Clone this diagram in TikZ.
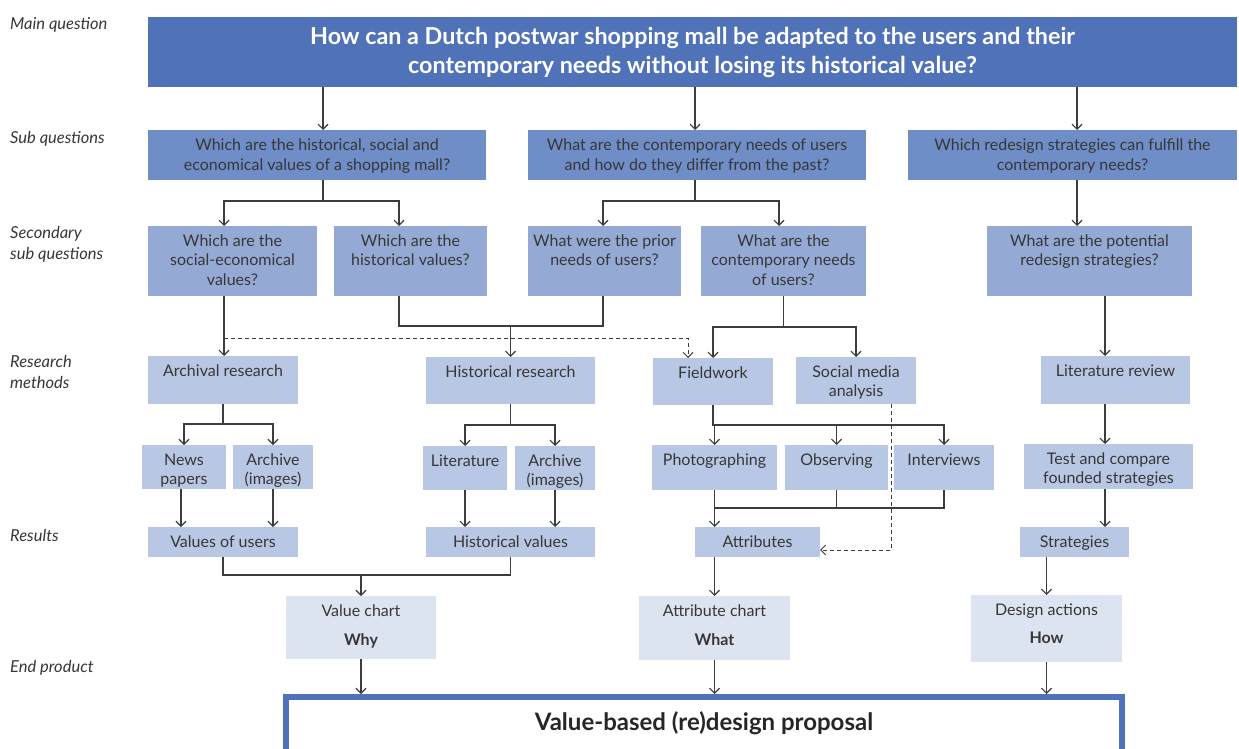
\documentclass[tikz,border=0pt]{standalone}
\usepackage{fontspec}
\setmainfont{Lato}
\usetikzlibrary{arrows.meta}
\definecolor{cmain}{RGB}{79,114,184}
\definecolor{csq}{RGB}{111,141,199}
\definecolor{css}{RGB}{148,170,213}
\definecolor{crm}{RGB}{184,199,227}
\definecolor{cend}{RGB}{220,227,241}
\definecolor{ctxt}{RGB}{55,55,55}
\definecolor{cline}{RGB}{60,60,60}
\newcommand\bx[8]{%
 \pgfmathsetmacro\bxw{#6-#4}%
 \pgfmathsetmacro\bxh{#7-#5}%
 \pgfmathsetmacro\bxc{(#4+#6)/2}%
 \node[#2,anchor=north,inner sep=0pt,outer sep=0pt,minimum width=\bxw pt,minimum height=\bxh pt] (#1) at (\bxc,#5)
 {\parbox[c][\bxh pt][#3]{\bxw pt}{\centering\ifx t#3\vspace*{6.5pt}\fi\strut #8}};}
\tikzset{
 boxsq/.style={fill=csq,text=ctxt},
 boxss/.style={fill=css,text=ctxt},
 boxrm/.style={fill=crm,text=ctxt},
 boxend/.style={fill=cend,text=ctxt},
 side/.style={font=\fontsize{16.5}{21}\selectfont\itshape,text=ctxt,inner sep=0pt,align=left},
 ln/.style={draw=cline,line width=1.2pt},
 arr/.style={ln,-{Straight Barb[length=5pt,width=10pt]}},
 dsh/.style={ln,line width=1pt,dash pattern=on 4pt off 3pt},
 dsharr/.style={dsh,-{Straight Barb[length=5pt,width=10pt]}},
}
\begin{document}
\begin{tikzpicture}[x=1pt,y=-1pt,font=\fontsize{16}{19.5}\selectfont]
\useasboundingbox (0,0) rectangle (1239,749);
\clip (0,0) rectangle (1239,749);
% side labels
\node[side,anchor=west] (lmain) at (10,25) {Main question};
\node[side,anchor=west] (lsub) at (10,139) {Sub questions};
\node[side,anchor=north west] (lsec) at (10,226) {Secondary\\sub questions};
\node[side,anchor=north west] (lres) at (10,355) {Research\\methods};
\node[side,anchor=west] (lrst) at (10,535) {Results};
\node[side,anchor=west] (lend) at (10,668) {End product};
% main
\node[fill=cmain,text=white,anchor=north,inner sep=0pt,minimum width=1089pt,minimum height=70pt,
 align=center,font=\fontsize{23.3}{29}\selectfont\bfseries] (main) at (692.5,17)
 {\rule{0pt}{6pt}How can a Dutch postwar shopping mall be adapted to the users and their\\contemporary needs without losing its historical value?};
% sub questions
\bx{sq1}{boxsq}{c}{148}{130}{486}{180}{Which are the historical, social and\\economical values of a shopping mall?}
\bx{sq2}{boxsq}{c}{528}{130}{866}{180}{What are the contemporary needs of users\\and how do they differ from the past?}
\bx{sq3}{boxsq}{c}{908}{130}{1237}{180}{Which redesign strategies can fulfill the\\contemporary needs?}
% secondary
\bx{ss1}{boxss}{t}{148}{226}{317}{296}{Which are the\\social-economical\\values?}
\bx{ss2}{boxss}{t}{334}{226}{487}{296}{Which are the\\historical values?}
\bx{ss3}{boxss}{t}{528}{226}{681}{296}{What were the prior\\needs of users?}
\bx{ss4}{boxss}{t}{701}{226}{866}{296}{What are the\\contemporary needs\\of users?}
\bx{ss5}{boxss}{t}{987}{226}{1192}{296}{What are the potential\\redesign strategies?}
% research methods
\bx{rm1}{boxrm}{t}{148}{356}{298}{404}{Archival research}
\bx{rm2}{boxrm}{t}{426}{357}{595}{404}{Historical research}
\bx{rm3}{boxrm}{t}{653}{358}{773}{405}{Fieldwork}
\bx{rm4}{boxrm}{t}{796}{357}{916}{404}{Social media\\analysis}
\bx{rm5}{boxrm}{t}{1041}{356}{1190}{404}{Literature review}
% sub methods
\bx{news}{boxrm}{t}{142}{445}{226}{489}{News\\papers}
\bx{arch1}{boxrm}{t}{233}{445}{313}{489}{Archive\\(images)}
\bx{lit}{boxrm}{t}{423}{446}{507}{490}{Literature}
\bx{arch2}{boxrm}{t}{515}{446}{595}{490}{Archive\\(images)}
\bx{photo}{boxrm}{t}{652}{445}{777}{490}{Photographing}
\bx{obs}{boxrm}{t}{785}{445}{888}{490}{Observing}
\bx{intv}{boxrm}{t}{894}{445}{994}{490}{Interviews}
\bx{test}{boxrm}{t}{1024}{444}{1193}{489}{Test and compare\\founded strategies}
% results
\bx{res1}{boxrm}{t}{148}{527}{298}{557}{Values of users}
\bx{res2}{boxrm}{t}{426}{527}{595}{557}{Historical values}
\bx{res3}{boxrm}{t}{695}{527}{820}{557}{Attributes}
\bx{res4}{boxrm}{t}{1020}{527}{1129}{557}{Strategies}
% end products
\bx{end1}{boxend}{t}{286}{596}{436}{659}{\vspace*{1pt}Value chart\\[8.5pt]\textbf{Why}}
\bx{end2}{boxend}{t}{639}{596}{790}{660}{\vspace*{1pt}Attribute chart\\[8.5pt]\textbf{What}}
\bx{end3}{boxend}{t}{971}{595}{1122}{662}{Design actions\\[8.5pt]\textbf{How}}
% final
\node[draw=cmain,line width=6pt,fill=white,anchor=north,inner sep=0pt,minimum width=836pt,minimum height=90pt,
 text=black!85] (final) at (704,694)
 {\parbox[c][90pt][t]{836pt}{\centering\vspace*{15pt}\fontsize{24}{28}\selectfont\bfseries Value-based (re)design proposal}};
% helper coordinates
\coordinate (a1) at ([xshift=6pt]sq1.north);
\coordinate (a2) at ([xshift=-2pt]sq2.north);
\coordinate (a3) at ([xshift=4.5pt]sq3.north);
\coordinate (b1) at ([xshift=-8.5pt]ss1.north);
\coordinate (b2) at ([xshift=-11.5pt]ss2.north);
\coordinate (b3) at ([xshift=-1.5pt]ss3.north);
\coordinate (b4) at ([xshift=-4.5pt]ss4.north);
\coordinate (b5) at ([xshift=-12.5pt]ss5.north);
\coordinate (e5) at ([xshift=-10.5pt]rm5.north);
\coordinate (n1) at ([xshift=-3pt]news.south);
% main -> sub
\draw[arr] (main.south -| a1) -- (a1);
\draw[arr] (main.south -| a2) -- (a2);
\draw[arr] (main.south -| a3) -- (a3);
% sub -> secondary
\draw[arr] (sq1.south -| a1) -- ++(0,21) -| (b1);
\draw[arr] (sq1.south -| a1) -- ++(0,21) -| (b2);
\draw[arr] (sq2.south -| a2) -- ++(0,21) -| (b3);
\draw[arr] (sq2.south -| a2) -- ++(0,21) -| (b4);
\draw[arr] (sq3.south -| b5) -- (b5);
% secondary -> methods
\draw[arr] (ss1.south -| b1) -- (rm1.north -| b1);
\draw[ln] (ss2.south -| b2) -- ++(0,30) coordinate (j1) -| (ss3.south -| b3);
\draw[arr] (j1 -| rm2.north) -- (rm2.north);
\coordinate (d1) at ([yshift=-12pt]j1 -| b1);
\draw[dsharr] (d1) -| ([xshift=-25pt]rm3.north);
\draw[arr] (ss4.south) -- ++(0,31) -| (rm3.north);
\draw[arr] (ss4.south) -- ++(0,31) -| (rm4.north);
\draw[arr] (ss5.south -| e5) -- (e5);
% methods -> sub methods
\draw[arr] (rm1.south) -- ++(0,20) -| (news.north);
\draw[arr] (rm1.south) -- ++(0,20) -| (arch1.north);
\draw[arr] (rm2.south) -- ++(0,21) -| (lit.north);
\draw[arr] (rm2.south) -- ++(0,21) -| (arch2.north);
\draw[arr] (rm3.south) -- ++(0,20) -| (photo.north);
\draw[arr] (rm3.south) -- ++(0,20) -| (obs.north);
\draw[arr] (rm3.south) -- ++(0,20) -| (intv.north);
\draw[arr] (rm5.south -| e5) -- (test.north -| e5);
% sub methods -> results
\draw[arr] (n1) -- (res1.north -| n1);
\draw[arr] (arch1.south) -- (res1.north -| arch1.south);
\draw[arr] (lit.south) -- (res2.north -| lit.south);
\draw[arr] (arch2.south) -- (res2.north -| arch2.south);
\draw[arr] (photo.south) -- (res3.north -| photo.south);
\draw[ln] (obs.south) -- ++(0,18);
\draw[ln] (intv.south) -- ++(0,18) -| (photo.south);
\draw[dsharr] ([xshift=35pt]rm4.south) |- ([yshift=-8pt]res3.east);
\draw[arr] (test.south -| e5) -- (res4.north -| e5);
% results -> end
\draw[ln] (res1.south) -- ++(0,18) coordinate (k1) -| (res2.south);
\draw[arr] (k1 -| end1.north) -- (end1.north);
\draw[arr] (res3.south -| end2.north) -- (end2.north);
\draw[arr] (res4.south -| end3.north) -- (end3.north);
% end -> final
\draw[arr] (end1.south) -- (end1.south |- final.north);
\draw[arr] (end2.south) -- (end2.south |- final.north);
\draw[arr] (end3.south) -- (end3.south |- final.north);
\end{tikzpicture}
\end{document}
